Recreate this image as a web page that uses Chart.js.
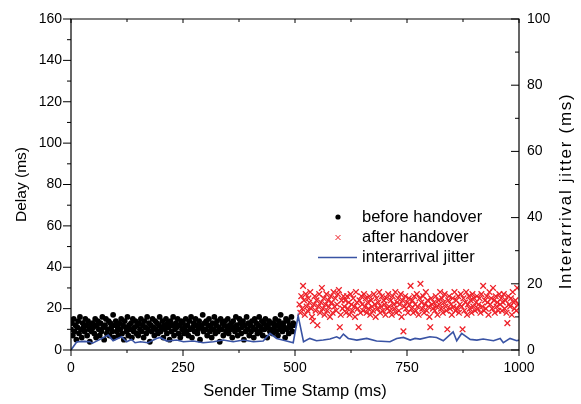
<!DOCTYPE html>
<html><head><meta charset="utf-8">
<script src="https://cdn.jsdelivr.net/npm/chart.js@4.4.0/dist/chart.umd.min.js"></script>
<style>html,body{margin:0;padding:0;background:#fff;}</style>
</head><body>
<canvas id="c" width="581" height="404"></canvas>
<script>
const beforeT = [0,2,4,6,8,10,12,14,16,18,20,22,24,26,28,30,32,34,36,38,40,42,44,46,48,
50,52,54,56,58,60,62,64,66,68,70,72,74,76,78,80,82,84,86,88,90,92,94,96,98,
100,102,104,106,108,110,112,114,116,118,120,122,124,126,128,130,132,134,136,138,140,142,144,146,148,
150,152,154,156,158,160,162,164,166,168,170,172,174,176,178,180,182,184,186,188,190,192,194,196,198,
200,202,204,206,208,210,212,214,216,218,220,222,224,226,228,230,232,234,236,238,240,242,244,246,248,
250,252,254,256,258,260,262,264,266,268,270,272,274,276,278,280,282,284,286,288,290,292,294,296,298,
300,302,304,306,308,310,312,314,316,318,320,322,324,326,328,330,332,334,336,338,340,342,344,346,348,
350,352,354,356,358,360,362,364,366,368,370,372,374,376,378,380,382,384,386,388,390,392,394,396,398,
400,402,404,406,408,410,412,414,416,418,420,422,424,426,428,430,432,434,436,438,440,442,444,446,448,
450,452,454,456,458,460,462,464,466,468,470,472,474,476,478,480,482,484,486,488,490,492,494,496,498];
const beforeDelay = [10,13,7,15,9,12,5,11,14,8,16,10,6,13,11,9,15,12,7,14,10,4,12,9,13,
11,8,15,6,12,14,10,7,13,9,16,11,5,12,15,8,10,14,7,13,11,9,17,6,12,
14,9,11,7,13,10,15,8,12,5,14,11,9,16,7,12,10,13,6,15,9,11,14,8,12,
7,13,10,15,9,12,6,14,11,8,16,10,13,4,12,9,15,11,7,14,10,13,8,12,16,
9,11,14,6,12,10,15,8,13,11,5,14,9,12,16,7,10,13,11,15,8,12,6,14,10,
13,8,11,15,9,12,7,14,10,16,6,11,13,9,15,12,8,10,14,5,12,11,17,9,13,
10,14,7,12,15,9,11,6,13,10,16,8,12,14,9,11,4,15,10,13,7,12,14,9,11,
15,8,12,10,13,6,14,11,9,16,12,7,10,15,13,8,11,14,5,12,9,16,10,13,7,
12,9,14,11,6,15,10,13,8,12,16,9,11,14,7,13,10,15,12,6,11,14,9,13,10,
8,13,11,15,9,12,7,14,10,17,12,9,13,11,6,15,10,14,8,12,11,16,9,13,12];
const afterT = [510,512,514,516,518,520,522,524,526,528,530,532,534,536,538,540,542,544,546,548,550,552,554,556,558,
560,562,564,566,568,570,572,574,576,578,580,582,584,586,588,590,592,594,596,598,600,602,604,606,608,
610,612,614,616,618,620,622,624,626,628,630,632,634,636,638,640,642,644,646,648,650,652,654,656,658,
660,662,664,666,668,670,672,674,676,678,680,682,684,686,688,690,692,694,696,698,700,702,704,706,708,
710,712,714,716,718,720,722,724,726,728,730,732,734,736,738,740,742,744,746,748,750,752,754,756,758,
760,762,764,766,768,770,772,774,776,778,780,782,784,786,788,790,792,794,796,798,800,802,804,806,808,
810,812,814,816,818,820,822,824,826,828,830,832,834,836,838,840,842,844,846,848,850,852,854,856,858,
860,862,864,866,868,870,872,874,876,878,880,882,884,886,888,890,892,894,896,898,900,902,904,906,908,
910,912,914,916,918,920,922,924,926,928,930,932,934,936,938,940,942,944,946,948,950,952,954,956,958,
960,962,964,966,968,970,972,974,976,978,980,982,984,986,988,990,992,994,996,998];
const afterDelay = [22,18,26,20,31,24,17,27,21,19,25,23,28,20,16,14,22,26,19,24,12,21,27,18,23,
30,20,25,17,22,27,19,24,21,16,26,23,18,28,21,25,19,22,27,29,11,17,24,20,26,
21,24,18,26,20,23,17,27,22,19,25,21,16,28,23,20,11,24,18,26,22,19,27,21,25,
18,23,20,26,17,24,21,19,27,22,16,25,20,23,28,18,21,26,19,24,22,17,25,20,27,
21,19,24,17,26,22,20,28,18,23,25,19,22,27,16,24,9,21,26,20,23,18,25,22,31,
20,24,18,26,22,19,27,21,17,25,32,23,20,26,18,22,28,19,24,21,16,11,25,22,20,
23,19,26,21,17,24,22,28,20,25,18,23,27,21,19,10,24,26,20,22,17,25,21,28,19,
24,20,26,18,22,27,21,10,25,19,23,28,17,22,26,20,24,18,27,21,25,19,23,26,20,
22,25,18,27,21,31,19,24,20,26,23,17,28,22,25,20,30,24,18,26,21,23,19,27,22,
25,19,23,27,20,24,18,13,26,22,21,25,17,28,23,20,24,19,30,22];
const jitterT = [0,13,30,42,47,65,83,94,113,124,135,143,155,172,191,199,214,236,251,273,
295,318,340,362,385,407,429,444,459,481,496,507,519,533,548,563,578,593,600,608,
619,638,660,682,712,727,742,757,768,779,801,816,831,853,861,872,891,906,920,943,
958,965,980,995,1000];
const jitterMs = [0,2.5,2.6,2.5,2.0,3.2,4.5,2.8,4.0,2.5,3.2,2.2,2.5,2.2,3.5,3.8,2.7,3.0,2.5,2.7,
2.2,2.5,3.0,2.5,3.0,2.5,2.7,5.0,3.5,2.7,2.2,10.3,2.5,3.5,2.8,3.0,3.3,4.0,3.5,4.8,
3.5,3.0,3.5,2.7,2.5,3.5,3.8,3.0,3.5,3.3,4.0,3.8,2.8,5.5,2.8,5.0,3.2,3.0,3.3,2.8,
3.5,2.2,3.5,2.8,3.0];
const xTicks = [0,250,500,750,1000];
const delayTicks = [0,20,40,60,80,100,120,140,160];
const jitterTicks = [0,20,40,60,80,100];
const seriesNames = ['before handover','after handover','interarrival jitter'];
const axisTitles = {x:'Sender Time Stamp (ms)', y:'Delay (ms)', y2:'Interarrival jitter (ms)'};

const FONT = '"Liberation Sans", Arial, sans-serif';
const RED = 'rgb(238,32,40)';
const BLUE = 'rgb(57,83,164)';

const framePlugin = {
  id: 'frame',
  afterDatasetsDraw(chart) {
    const ctx = chart.ctx;
    const {left, right, top, bottom} = chart.chartArea;
    const sx = chart.scales.x, sy = chart.scales.y, sy2 = chart.scales.y2;
    ctx.save();
    ctx.strokeStyle = '#000';
    ctx.lineWidth = 1.2;
    ctx.beginPath();
    ctx.rect(left, top, right - left, bottom - top);
    ctx.stroke();
    ctx.lineWidth = 1;
    ctx.beginPath();
    const mids = arr => arr.slice(1).map((v, i) => (v + arr[i]) / 2);
    xTicks.forEach(v => { const p = sx.getPixelForValue(v); ctx.moveTo(p, bottom); ctx.lineTo(p, bottom + 6); ctx.moveTo(p, top); ctx.lineTo(p, top + 4); });
    mids(xTicks).forEach(v => { const p = sx.getPixelForValue(v); ctx.moveTo(p, bottom); ctx.lineTo(p, bottom + 3); ctx.moveTo(p, top); ctx.lineTo(p, top + 3); });
    delayTicks.forEach(v => { const p = sy.getPixelForValue(v); ctx.moveTo(left - 8, p); ctx.lineTo(left, p); });
    mids(delayTicks).forEach(v => { const p = sy.getPixelForValue(v); ctx.moveTo(left - 4, p); ctx.lineTo(left, p); });
    jitterTicks.forEach(v => { const p = sy2.getPixelForValue(v); ctx.moveTo(right - 8, p); ctx.lineTo(right, p); });
    mids(jitterTicks).forEach(v => { const p = sy2.getPixelForValue(v); ctx.moveTo(right - 4, p); ctx.lineTo(right, p); });
    ctx.stroke();
    ctx.restore();
  },
  afterDraw(chart) {
    const ctx = chart.ctx;
    const ds = chart.data.datasets;
    const mx = 338, tx = 362, rows = [217, 237.5, 257.5];
    ctx.save();
    ctx.font = '16.5px ' + FONT;
    ctx.fillStyle = '#000';
    ctx.textBaseline = 'middle';
    ctx.textAlign = 'left';
    ds.forEach((d, i) => {
      const y = rows[i];
      if (i === 0) {
        ctx.beginPath(); ctx.arc(mx, y, 2.6, 0, Math.PI * 2); ctx.fillStyle = d.backgroundColor; ctx.fill();
      } else if (i === 1) {
        ctx.strokeStyle = d.borderColor; ctx.lineWidth = 1;
        ctx.beginPath(); ctx.moveTo(mx - 2.5, y - 2.5); ctx.lineTo(mx + 2.5, y + 2.5); ctx.moveTo(mx + 2.5, y - 2.5); ctx.lineTo(mx - 2.5, y + 2.5); ctx.stroke();
      } else {
        ctx.strokeStyle = d.borderColor; ctx.lineWidth = 1.5;
        ctx.beginPath(); ctx.moveTo(318, y); ctx.lineTo(357, y); ctx.stroke();
      }
      ctx.fillStyle = '#000';
      ctx.fillText(d.label, tx, y);
    });
    ctx.translate(566, 191);
    ctx.rotate(-Math.PI / 2);
    ctx.font = '17px ' + FONT;
    ctx.textAlign = 'center';
    ctx.textBaseline = 'middle';
    if ('letterSpacing' in ctx) ctx.letterSpacing = '1.7px';
    ctx.fillText(axisTitles.y2, 0, 0);
    ctx.restore();
  }
};

new Chart(document.getElementById('c'), {
  type: 'scatter',
  data: {
    datasets: [
      { label: seriesNames[0], data: beforeT.map((t, i) => ({x: t, y: beforeDelay[i]})), yAxisID: 'y',
        pointStyle: 'circle', pointRadius: 2.9, backgroundColor: '#000', borderWidth: 0, order: 2 },
      { label: seriesNames[1], data: afterT.map((t, i) => ({x: t, y: afterDelay[i]})), yAxisID: 'y',
        pointStyle: 'crossRot', pointRadius: 4, borderColor: RED, backgroundColor: RED, borderWidth: 1.3, order: 3 },
      { label: seriesNames[2], type: 'line', data: jitterT.map((t, i) => ({x: t, y: jitterMs[i]})), yAxisID: 'y2',
        showLine: true, pointRadius: 0, borderColor: BLUE, backgroundColor: BLUE, borderWidth: 1.6, tension: 0, fill: false, order: 1 }
    ]
  },
  options: {
    responsive: false, animation: false, events: [],
    layout: { padding: { top: 19, left: 0, right: 0, bottom: 0 } },
    plugins: { legend: { display: false }, tooltip: { enabled: false } },
    scales: {
      x: { type: 'linear', position: 'bottom', min: 0, max: 1000,
        afterBuildTicks: s => { s.ticks = xTicks.map(v => ({value: v})); },
        afterFit: s => { s.height = 54; },
        grid: { display: false, drawTicks: false }, border: { display: false },
        ticks: { color: '#000', font: { family: FONT, size: 14 }, padding: 10, maxRotation: 0, autoSkip: false, callback: v => String(v) },
        title: { display: true, text: axisTitles.x, color: '#000', font: { family: FONT, size: 16.5 }, padding: { top: 0, bottom: 3 } } },
      y: { type: 'linear', position: 'left', min: 0, max: 160,
        afterBuildTicks: s => { s.ticks = delayTicks.map(v => ({value: v})); },
        afterFit: s => { s.width = 71; },
        grid: { display: false, drawTicks: false }, border: { display: false },
        ticks: { color: '#000', font: { family: FONT, size: 14 }, padding: 9, callback: v => String(v) },
        title: { display: true, text: axisTitles.y, color: '#000', font: { family: FONT, size: 15.5 }, padding: { top: 12, bottom: 0 } } },
      y2: { type: 'linear', position: 'right', min: 0, max: 100,
        afterBuildTicks: s => { s.ticks = jitterTicks.map(v => ({value: v})); },
        afterFit: s => { s.width = 62; },
        grid: { display: false, drawTicks: false }, border: { display: false },
        ticks: { color: '#000', font: { family: FONT, size: 14 }, padding: 8, callback: v => String(v) },
        title: { display: false } }
    }
  },
  plugins: [framePlugin]
});
</script>
</body></html>
